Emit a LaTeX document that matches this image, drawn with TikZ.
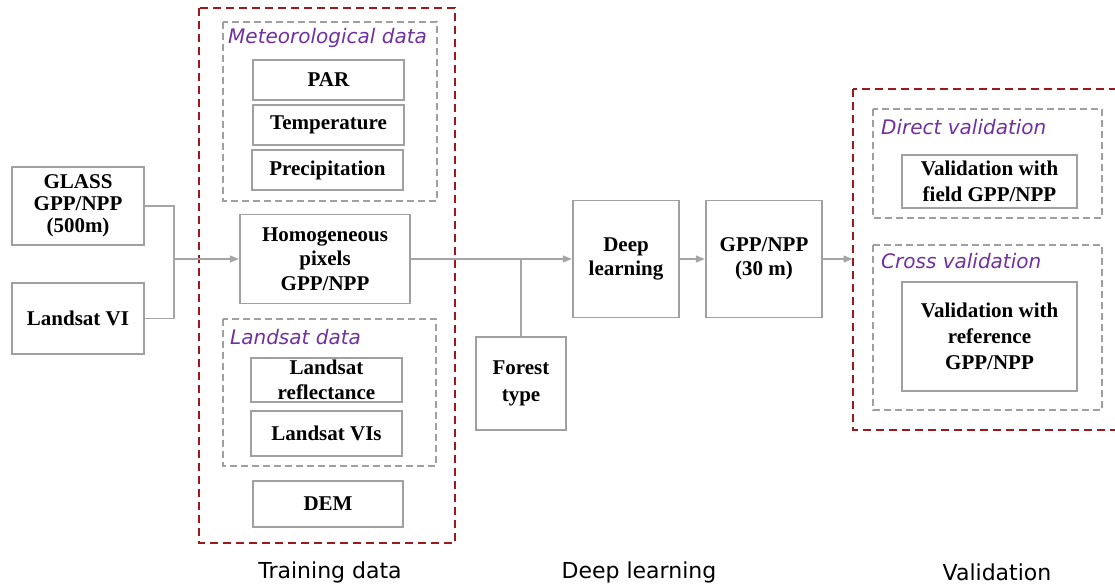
\documentclass[tikz,border=0pt]{standalone}
\usepackage{fontspec}
\setmainfont{Liberation Serif}
\newfontfamily\grpfont{DejaVu Sans}
\usetikzlibrary{arrows.meta}

\definecolor{boxgray}{RGB}{160,160,160}
\definecolor{linkgray}{RGB}{165,165,165}
\definecolor{stagered}{RGB}{158,25,30}
\definecolor{grppurple}{RGB}{112,48,160}

\begin{document}
\begin{tikzpicture}[x=1pt,y=-1pt,
    databox/.style={draw=boxgray,line width=1.4pt,inner sep=0pt,align=center,
      font=\bfseries\fontsize{21}{24.5}\selectfont},
    grpbox/.style={draw=boxgray,line width=1.2pt,dash pattern=on 7pt off 4pt},
    stagebox/.style={draw=stagered,line width=2pt,dash pattern=on 8pt off 5pt},
    grplabel/.style={anchor=west,inner sep=0pt,text=grppurple,
      font=\grpfont\itshape\fontsize{20}{24}\selectfont},
    stagelabel/.style={inner sep=0pt,font=\grpfont\fontsize{22}{26}\selectfont},
    link/.style={draw=linkgray,line width=1.2pt},
    arr/.style={link,-{Triangle[length=9pt,width=7pt]},shorten >=0.5pt}]
    \useasboundingbox[fill=white] (0,0) rectangle (1115,588);

    % stages
    \draw[stagebox] (199,8) rectangle (455,543);
    \draw[stagebox] (853,89) rectangle (1125,430);
    \draw[grpbox] (223,22) rectangle (437,201);
    \draw[grpbox] (223,319) rectangle (436,466);
    \draw[grpbox] (873,109) rectangle (1102,218);
    \draw[grpbox] (873,245) rectangle (1102,410);

    \node[grplabel] (metlab) at (228,38) {Meteorological data};
    \node[grplabel] (lslab) at (230,337) {Landsat data};
    \node[grplabel] (dirlab) at (881,127) {Direct validation};
    \node[grplabel] (croslab) at (881,261) {Cross validation};

    % inputs
    \node[databox,minimum width=132pt,minimum height=78pt,
      font=\bfseries\fontsize{21}{22}\selectfont] (glass) at (78,206) {GLASS\\GPP/NPP\\(500m)};
    \node[databox,minimum width=132pt,minimum height=71pt] (lsvi) at (78,318.5) {Landsat VI};

    % training data
    \node[databox,minimum width=151pt,minimum height=40pt] (par) at (328.5,80) {PAR};
    \node[databox,minimum width=151pt,minimum height=40pt] (temp) at (328.5,125) {Temperature};
    \node[databox,minimum width=151pt,minimum height=40pt] (prec) at (327.5,170) {Precipitation};
    \node[databox,minimum width=170pt,minimum height=89pt] (homog) at (325,259) {Homogeneous\\pixels\\GPP/NPP};
    \node[databox,minimum width=151pt,minimum height=44pt,
      font=\bfseries\fontsize{21}{25}\selectfont] (lsrefl) at (326.5,380) {Landsat\\reflectance};
    \node[databox,minimum width=151pt,minimum height=45pt] (lsvis) at (326.5,433.5) {Landsat VIs};
    \node[databox,minimum width=150pt,minimum height=46pt] (dem) at (328,504) {DEM};

    % deep learning
    \node[databox,minimum width=90pt,minimum height=93pt,
      font=\bfseries\fontsize{21}{27}\selectfont] (forest) at (521,383.5) {Forest\\type};
    \node[databox,minimum width=106pt,minimum height=117pt] (deep) at (626,259) {Deep\\learning};
    \node[databox,minimum width=116pt,minimum height=117pt] (gpp) at (764,259) {GPP/NPP\\(30 m)};

    % validation
    \node[databox,minimum width=175pt,minimum height=53pt,
      font=\bfseries\fontsize{21}{26}\selectfont] (field) at (989.5,181.5) {Validation with\\field GPP/NPP};
    \node[databox,minimum width=175pt,minimum height=109pt,
      font=\bfseries\fontsize{21}{26}\selectfont] (refv) at (989.5,336.5) {Validation with\\reference\\GPP/NPP};

    % connectors
    \coordinate (jn) at (174,259);
    \coordinate (valin) at (853,259);
    \draw[link] (glass.east) -| (jn);
    \draw[link] (lsvi.east) -| (jn);
    \draw[arr] (jn) -- (homog.west);
    \draw[arr] (homog.east) -- (deep.west);
    \draw[link] (forest.north) -- (forest.north |- homog.east);
    \draw[arr] (deep.east) -- (gpp.west);
    \draw[arr] (gpp.east) -- (valin);

    \node[stagelabel] (trainlab) at (330,572) {Training data};
    \node[stagelabel] (deeplab) at (639,572) {Deep learning};
    \node[stagelabel] (vallab) at (997,572) {Validation};
  \end{tikzpicture}
\end{document}
